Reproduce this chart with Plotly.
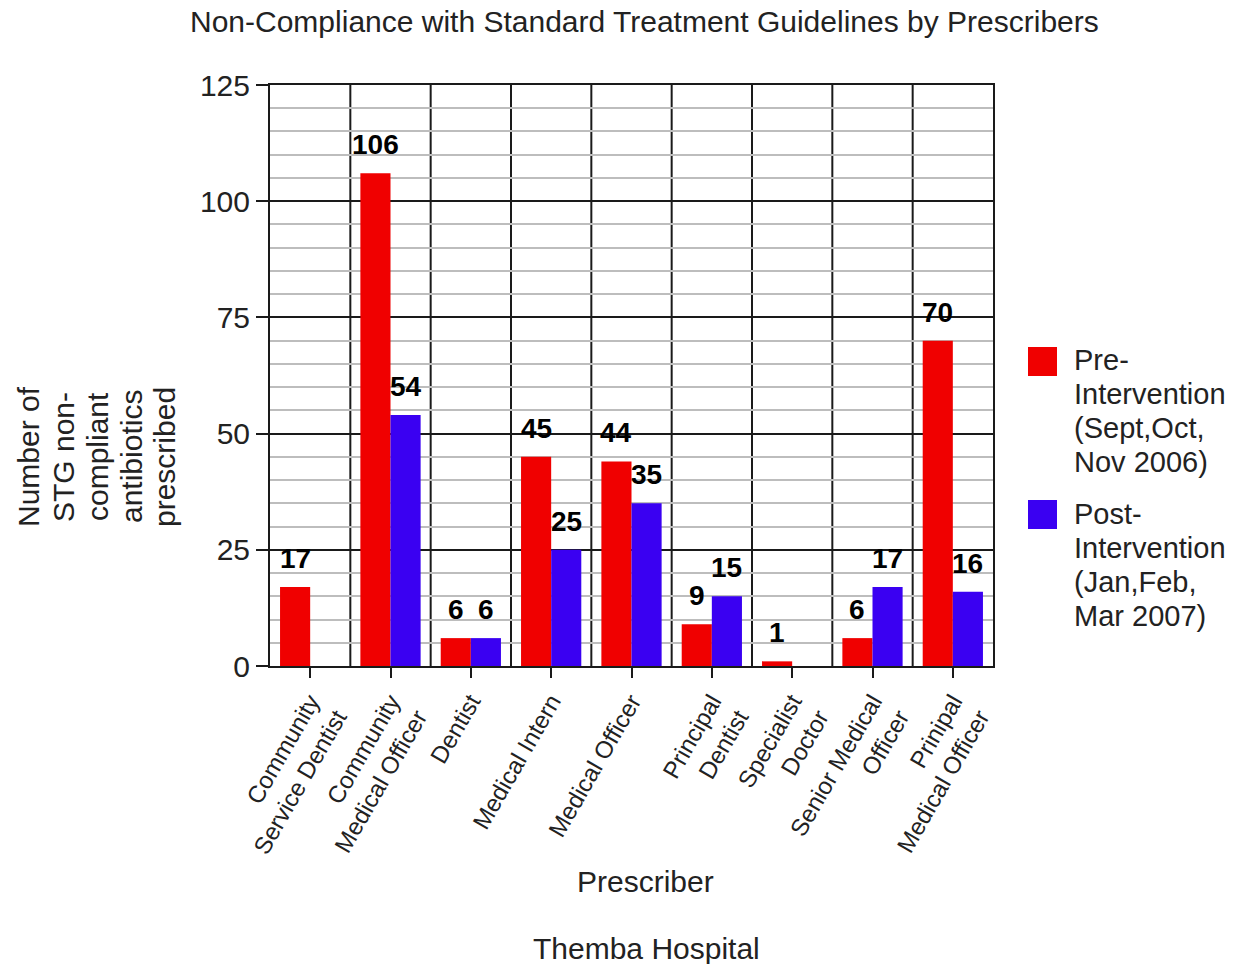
import plotly.graph_objects as go

# Prescriber categories and counts of STG non-compliant antibiotics
prescribers = [
    "Community<br>Service Dentist",
    "Community<br>Medical Officer",
    "Dentist",
    "Medical Intern",
    "Medical Officer",
    "Principal<br>Dentist",
    "Specialist<br>Doctor",
    "Senior Medical<br>Officer",
    "Prinipal<br>Medical Officer",
]
pre_values = [17, 106, 6, 45, 44, 9, 1, 6, 70]
post_values = [None, 54, 6, 25, 35, 15, None, 17, 16]

pre_lines = ["Pre-", "Intervention", "(Sept,Oct,", "Nov 2006)"]
post_lines = ["Post-", "Intervention", "(Jan,Feb,", "Mar 2007)"]
ytitle_lines = ["Number of", "STG non-", "compliant", "antibiotics", "prescribed"]

RED = "#F00000"
BLUE = "#3A00F2"
FONT = "Liberation Sans, Arial, Helvetica, sans-serif"
TXT = "#222"

W, H = 1248, 964
ML, MR, MT, MB = 270, 255, 85, 298
PW, PH = W - ML - MR, H - MT - MB


def px_x(x):
    return (x - ML) / PW


def px_y(y):
    return (H - MB - y) / PH


xs = list(range(len(prescribers)))

fig = go.Figure()
fig.add_trace(go.Bar(x=xs, y=pre_values, name="Pre", marker_color=RED,
                     marker_line_width=0, showlegend=False))
fig.add_trace(go.Bar(x=xs, y=post_values, name="Post", marker_color=BLUE,
                     marker_line_width=0, showlegend=False))

bargap = 0.25
half = (1 - bargap) / 4  # centre offset of each bar within a group

annotations = []
for values, off in ((pre_values, -half), (post_values, half)):
    for i, v in enumerate(values):
        if v is None:
            continue
        annotations.append(dict(x=i + off, y=v, xref="x", yref="y",
                                text="<b>%d</b>" % v,
                                showarrow=False, yanchor="bottom", yshift=11,
                                font=dict(family=FONT, size=28, color="black")))


def label(x, y, text, size, **kw):
    d = dict(x=px_x(x), y=px_y(y), xref="paper", yref="paper", text=text,
             showarrow=False, xanchor="center", yanchor="middle",
             font=dict(family=FONT, size=size, color=TXT))
    d.update(kw)
    annotations.append(d)


# rotated y-axis title, one line per column
for xc, line in zip((28, 63, 97, 131, 164), ytitle_lines):
    label(xc, 457, line, 30, textangle=-90)

label(645, 881, "Prescriber", 30)
label(646, 948, "Themba Hospital", 30)
label(644, 22, "Non-Compliance with Standard Treatment Guidelines by Prescribers", 30)

# legend: coloured squares with multi-line labels
for y0, lines in ((360, pre_lines), (514, post_lines)):
    for k, line in enumerate(lines):
        label(1072, y0 + 34 * k, line, 29, xanchor="left")

shapes = []
for top, col in ((347, RED), (500, BLUE)):
    shapes.append(dict(type="rect", xref="paper", yref="paper",
                       x0=px_x(1028), x1=px_x(1057), y0=px_y(top + 29), y1=px_y(top),
                       fillcolor=col, line=dict(width=0)))

# vertical separators between prescriber groups
for i in range(len(prescribers) - 1):
    shapes.append(dict(type="line", xref="x", yref="y", x0=i + 0.5, x1=i + 0.5,
                       y0=0, y1=125, line=dict(color="#1a1a1a", width=2), layer="below"))

fig.update_layout(
    width=W, height=H,
    margin=dict(l=ML, r=MR, t=MT, b=MB),
    paper_bgcolor="white", plot_bgcolor="white",
    barmode="group", bargap=bargap, bargroupgap=0,
    showlegend=False,
    annotations=annotations,
    shapes=shapes,
    font=dict(family=FONT, color=TXT),
)

fig.update_xaxes(
    range=[-0.5, len(prescribers) - 0.5],
    tickmode="array", tickvals=xs, ticktext=prescribers,
    tickangle=-60, tickfont=dict(family=FONT, size=24, color=TXT),
    ticks="outside", ticklen=10, tickwidth=2, tickcolor="#1a1a1a",
    showline=True, linecolor="#1a1a1a", linewidth=2, mirror=True,
    showgrid=False, zeroline=False,
)
fig.update_yaxes(
    range=[0, 125], tick0=0, dtick=25,
    tickfont=dict(family=FONT, size=30, color=TXT),
    ticks="outside", ticklen=12, tickwidth=2, tickcolor="#1a1a1a",
    showline=True, linecolor="#1a1a1a", linewidth=2, mirror=True,
    showgrid=True, gridcolor="#1a1a1a", gridwidth=2,
    minor=dict(dtick=5, showgrid=True, gridcolor="#bdbdbd", gridwidth=2, ticks=""),
    zeroline=False,
)

fig.write_html("out.html")
